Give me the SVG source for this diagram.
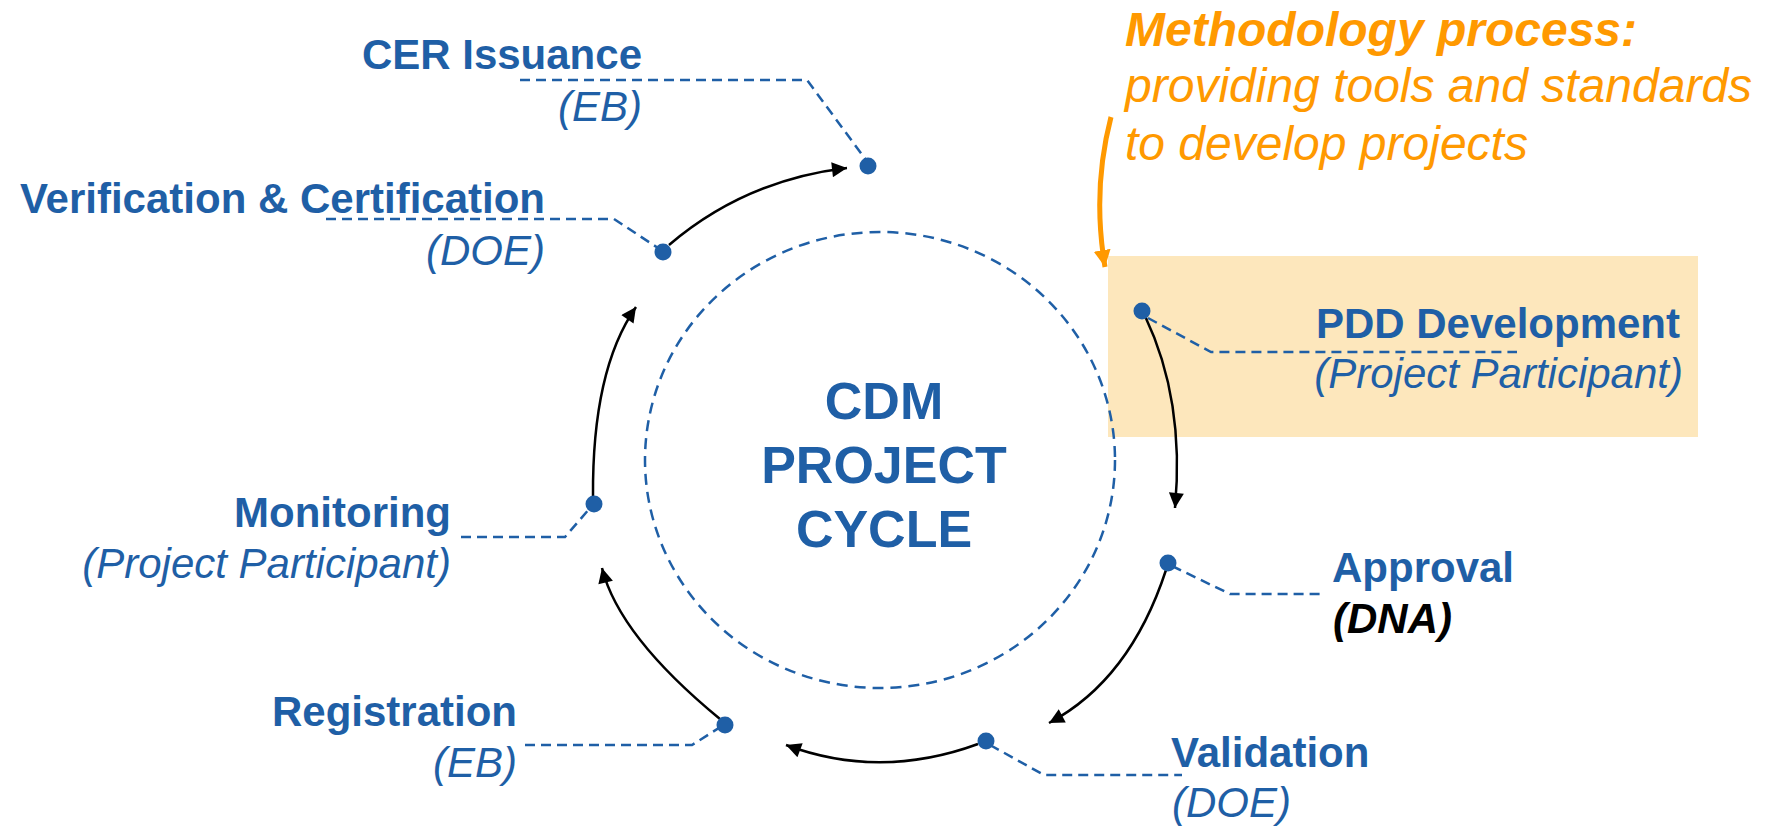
<svg xmlns="http://www.w3.org/2000/svg" width="1766" height="827" viewBox="0 0 1766 827">
  <style>
    text { font-family: "Liberation Sans", Arial, sans-serif; }
    .lb { font-weight: bold; font-size: 42px; fill: #1F5FA6; }
    .li { font-style: italic; font-size: 42px; fill: #1F5FA6; }
    .dna { font-style: italic; font-weight: bold; font-size: 42px; fill: #000; }
    .ctr { font-weight: bold; font-size: 52px; fill: #1F5FA6; text-anchor: middle; }
    .ob { font-style: italic; font-weight: bold; font-size: 48px; fill: #FF9900; }
    .oi { font-style: italic; font-size: 48px; fill: #FF9900; }
    .end { text-anchor: end; }
    .dot { fill: #1F5FA6; }
    .lead { fill: none; stroke: #1F5FA6; stroke-width: 2.5; stroke-dasharray: 10 6; }
    .flow { fill: none; stroke: #000; stroke-width: 2.5; marker-end: url(#ah); }
  </style>
  <defs>
    <marker id="ah" viewBox="0 0 10 10" refX="10" refY="5" markerUnits="userSpaceOnUse" markerWidth="18" markerHeight="15" orient="auto">
      <path d="M0,0 L10,5 L0,10 Z" fill="#000"/>
    </marker>
    <marker id="oah" viewBox="0 0 10 10" refX="10" refY="5" markerUnits="userSpaceOnUse" markerWidth="17" markerHeight="18" orient="auto">
      <path d="M0,0 L10,5 L0,10 Z" fill="#FF9900"/>
    </marker>
  </defs>

  <rect x="0" y="0" width="1766" height="827" fill="#fff"/>

  <!-- highlight box -->
  <rect id="highlight" x="1108" y="256" width="590" height="181" fill="#FDE7BC"/>

  <!-- center -->
  <g id="center">
    <ellipse cx="880" cy="460" rx="235" ry="228" fill="none" stroke="#1F5FA6" stroke-width="2.5" stroke-dasharray="11 7"/>
    <text class="ctr" x="884" y="419">CDM</text>
    <text class="ctr" x="884" y="483">PROJECT</text>
    <text class="ctr" x="884" y="547">CYCLE</text>
  </g>

  <!-- connectors -->
  <g id="connectors">
    <path class="lead" d="M520,80 H807 L866,160"/>
    <path class="lead" d="M326,219 H614 L658,248"/>
    <path class="lead" d="M461,537 H565 L590,508"/>
    <path class="lead" d="M525,745 H692 L722,726"/>
    <path class="lead" d="M1148,318 L1211,352 H1517"/>
    <path class="lead" d="M1172,566 L1230,594 H1325"/>
    <path class="lead" d="M990,745 L1044,775 H1182"/>

    <path class="flow" d="M669,245 Q745,180 847,168"/>
    <path class="flow" d="M593,497 Q592,370 636,307"/>
    <path class="flow" d="M720,719 Q619,636 602,568"/>
    <path class="flow" d="M978,744 Q880,780 786,745"/>
    <path class="flow" d="M1166,570 Q1130,680 1049,723"/>
    <path class="flow" d="M1145,316 Q1185,400 1175,508"/>

    <path d="M1111,117 Q1092,190 1105,267" fill="none" stroke="#FF9900" stroke-width="5" marker-end="url(#oah)"/>
  </g>

  <g id="node-cer">
    <circle class="dot" cx="868" cy="166" r="8.5"/>
    <text class="lb end" x="642" y="69">CER Issuance</text>
    <text class="li end" x="642" y="121">(EB)</text>
  </g>
  <g id="node-verification">
    <circle class="dot" cx="663" cy="252" r="8.5"/>
    <text class="lb end" x="545" y="213">Verification &amp; Certification</text>
    <text class="li end" x="545" y="265">(DOE)</text>
  </g>
  <g id="node-monitoring">
    <circle class="dot" cx="594" cy="504" r="8.5"/>
    <text class="lb end" x="451" y="527">Monitoring</text>
    <text class="li end" x="451" y="578">(Project Participant)</text>
  </g>
  <g id="node-registration">
    <circle class="dot" cx="725" cy="725" r="8.5"/>
    <text class="lb end" x="517" y="726">Registration</text>
    <text class="li end" x="517" y="777">(EB)</text>
  </g>
  <g id="node-validation">
    <circle class="dot" cx="986" cy="741" r="8.5"/>
    <text class="lb" x="1171" y="767">Validation</text>
    <text class="li" x="1172" y="817">(DOE)</text>
  </g>
  <g id="node-approval">
    <circle class="dot" cx="1168" cy="563" r="8.5"/>
    <text class="lb" x="1332" y="582">Approval</text>
    <text class="dna" x="1333" y="633">(DNA)</text>
  </g>
  <g id="node-pdd">
    <circle class="dot" cx="1142" cy="311" r="8.5"/>
    <text class="lb end" x="1680" y="338">PDD Development</text>
    <text class="li end" x="1683" y="388">(Project Participant)</text>
  </g>
  <g id="methodology">
    <text class="ob" x="1125" y="46">Methodology process:</text>
    <text class="oi" x="1125" y="102">providing tools and standards</text>
    <text class="oi" x="1125" y="160">to develop projects</text>
  </g>
</svg>
